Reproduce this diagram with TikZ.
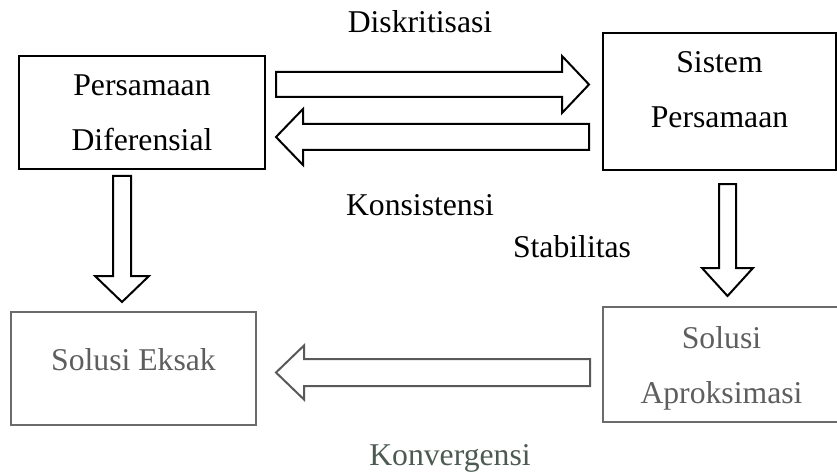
\documentclass[tikz,border=0pt]{standalone}
\usepackage{fontspec}
\setmainfont{Liberation Serif}
\usepackage{tikz}
\usetikzlibrary{calc, positioning}

\definecolor{boxgrey}{HTML}{6B6B6B}
\definecolor{textgrey}{HTML}{5E5E5E}
\definecolor{arrowgrey}{HTML}{595959}
\definecolor{konvgrey}{HTML}{4C5A52}

\begin{document}
\begin{tikzpicture}[x=1pt, y=-1pt,
    every node/.style={font=\fontsize{31.7}{55}\selectfont},
    box/.style={draw, line width=2pt, align=center, inner sep=0pt},
    greybox/.style={box, draw=boxgrey, text=textgrey},
    lbl/.style={anchor=base, inner sep=0pt},
    blockarrow/.style n args={3}{draw, line width=2pt, line join=miter, to path={
        ($(\tikztostart)!#1!90:(\tikztotarget)$)
        -- ($($(\tikztotarget)!#3!(\tikztostart)$)!#1!90:(\tikztotarget)$)
        -- ($($(\tikztotarget)!#3!(\tikztostart)$)!#2!90:(\tikztotarget)$)
        -- (\tikztotarget)
        -- ($($(\tikztotarget)!#3!(\tikztostart)$)!#2!-90:(\tikztotarget)$)
        -- ($($(\tikztotarget)!#3!(\tikztostart)$)!#1!-90:(\tikztotarget)$)
        -- ($(\tikztostart)!#1!-90:(\tikztotarget)$)
        -- cycle}}]
    \useasboundingbox (0,0) rectangle (837,473);

    \node[box, minimum width=246pt, minimum height=113pt] (pd) at (142,112.5) {Persamaan\\Diferensial};
    \node[box, minimum width=233pt, minimum height=137pt, text depth=23pt] (sp) at (719.5,101.5) {Sistem\\Persamaan};
    \node[greybox, minimum width=237pt, minimum height=115pt, text depth=0pt] (sa) at (721.5,364.5) {Solusi\\Aproksimasi};
    \node[greybox, minimum width=245pt, minimum height=113pt, text depth=18.6pt] (se) at (133.5,368.5) {Solusi Eksak};

    \coordinate (dis-a) at ([xshift=10pt, yshift=28pt]pd.east);
    \coordinate (dis-b) at ([xshift=-13pt, yshift=17pt]sp.west);
    \coordinate (kon-a) at ([xshift=-13pt, yshift=-35.5pt]sp.west);
    \coordinate (kon-b) at ([xshift=10pt, yshift=-24.5pt]pd.east);
    \coordinate (sta-a) at ([xshift=8pt, yshift=-13pt]sp.south);
    \coordinate (sta-b) at ([xshift=6pt, yshift=10pt]sa.north);
    \coordinate (eks-a) at ([xshift=-20pt, yshift=-6pt]pd.south);
    \coordinate (eks-b) at ([xshift=-11.5pt, yshift=9pt]se.north);
    \coordinate (konv-a) at ([xshift=-12pt, yshift=-8pt]sa.west);
    \coordinate (konv-b) at ([xshift=19pt, yshift=-4pt]se.east);

    \draw[blockarrow={12.5pt}{28.5pt}{27pt}] (dis-a) to (dis-b);
    \draw[blockarrow={13pt}{28pt}{27pt}] (kon-a) to (kon-b);
    \draw[blockarrow={8.5pt}{25.5pt}{28pt}] (sta-a) to (sta-b);
    \draw[blockarrow={9pt}{27pt}{26pt}] (eks-a) to (eks-b);
    \draw[blockarrow={13.5pt}{27pt}{28pt}, draw=arrowgrey] (konv-a) to (konv-b);

    \node[lbl] (ldis) at (420,33) {Diskritisasi};
    \node[lbl] (lkon) at (420,215) {Konsistensi};
    \node[lbl] (lsta) at (572,257) {Stabilitas};
    \node[lbl, text=konvgrey] (lkonv) at (450,465) {Konvergensi};
\end{tikzpicture}
\end{document}
